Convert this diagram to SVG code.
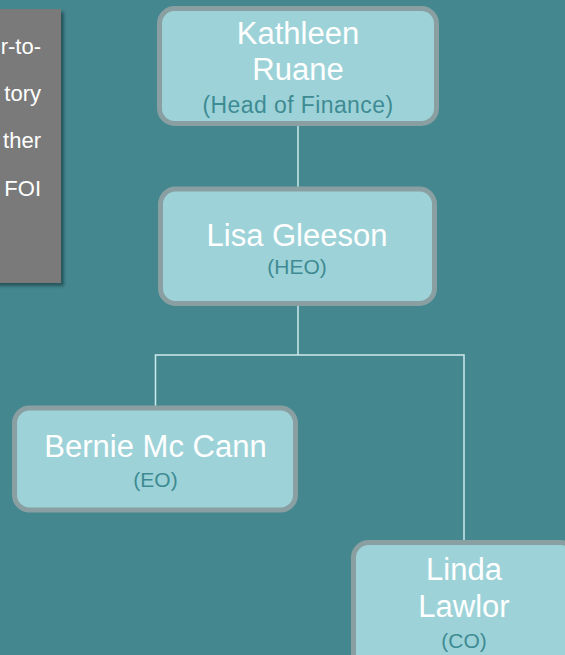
<svg xmlns="http://www.w3.org/2000/svg" width="565" height="655" viewBox="0 0 565 655">
<defs>
<filter id="sh" x="-20%" y="-20%" width="140%" height="140%">
<feGaussianBlur in="SourceAlpha" stdDeviation="1.5"/>
<feOffset dx="3" dy="3" result="b"/>
<feFlood flood-color="#1f4a50" flood-opacity="0.8"/>
<feComposite in2="b" operator="in"/>
<feMerge><feMergeNode/><feMergeNode in="SourceGraphic"/></feMerge>
</filter>
</defs>
<style>
.box{fill:#9dd3d8;stroke:#8a9fa1;stroke-width:5}
.name{font-family:"Liberation Sans",Arial,sans-serif;font-size:31px;fill:#ffffff;text-anchor:middle}
.sub{font-family:"Liberation Sans",Arial,sans-serif;font-size:21px;fill:#3f8b93;text-anchor:middle}
.note{font-family:"Liberation Sans",Arial,sans-serif;font-size:22px;fill:#ffffff;text-anchor:end}
.conn{stroke:#cdeaee;stroke-width:1.5;fill:none}
</style>
<rect x="0" y="0" width="565" height="655" fill="#45878f"/>
<g id="note">
<rect x="-10" y="9" width="71" height="274" fill="#7a7a7a" filter="url(#sh)"/>
<text class="note" x="41" y="54">r-to-</text>
<text class="note" x="41" y="101">tory</text>
<text class="note" x="41" y="148">ther</text>
<text class="note" x="41" y="196">FOI</text>
</g>
<g id="connectors">
<line class="conn" x1="298" y1="125" x2="298" y2="188"/>
<line class="conn" x1="298" y1="305" x2="298" y2="355"/>
<polyline class="conn" points="155.5,407 155.5,355 464,355 464,541"/>
</g>
<g id="kathleen">
<rect class="box" x="159.5" y="8.5" width="277" height="115" rx="15"/>
<text class="name" x="298" y="44">Kathleen</text>
<text class="name" x="298" y="80">Ruane</text>
<text class="sub" x="298" y="113" style="font-size:23px;letter-spacing:0.4px">(Head of Finance)</text>
</g>
<g id="lisa">
<rect class="box" x="160.5" y="189" width="274" height="114.5" rx="15"/>
<text class="name" x="297" y="246">Lisa Gleeson</text>
<text class="sub" x="297" y="274">(HEO)</text>
</g>
<g id="bernie">
<rect class="box" x="14.5" y="408" width="281" height="102" rx="15"/>
<text class="name" x="155.5" y="457">Bernie Mc Cann</text>
<text class="sub" x="155.5" y="487">(EO)</text>
</g>
<g id="linda">
<rect class="box" x="353.5" y="542.5" width="222" height="130" rx="15"/>
<text class="name" x="464" y="580">Linda</text>
<text class="name" x="464" y="617">Lawlor</text>
<text class="sub" x="464" y="648">(CO)</text>
</g>
</svg>
